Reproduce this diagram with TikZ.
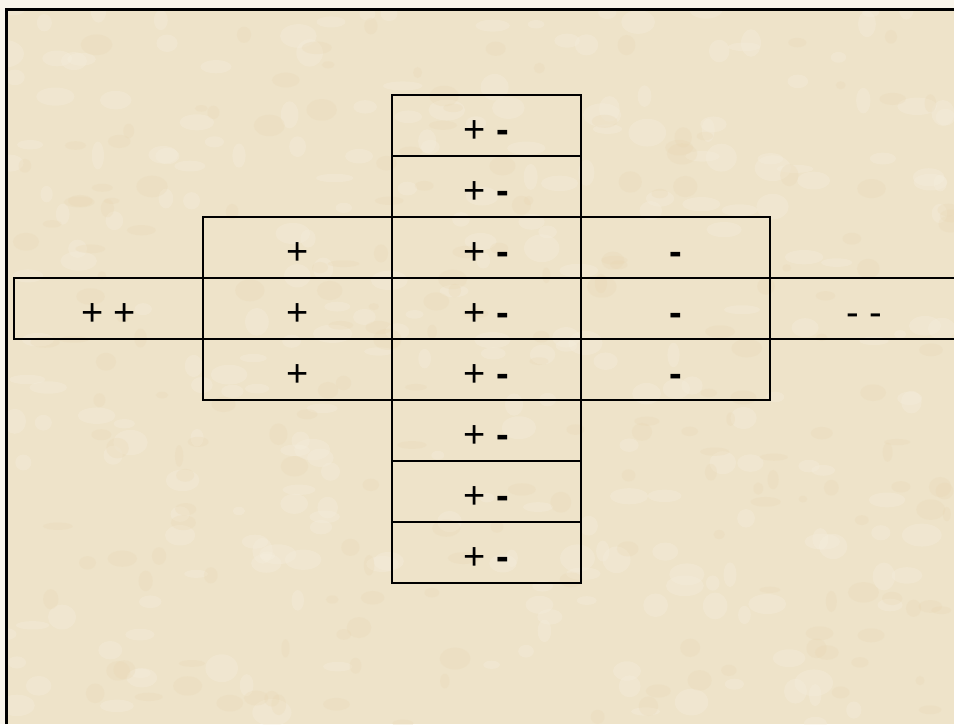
\documentclass[tikz,border=0pt]{standalone}
\usepackage{fontspec}
\setmainfont{Liberation Sans}
\usetikzlibrary{positioning}

\definecolor{parchment}{RGB}{238,227,201}
\definecolor{parchlight}{RGB}{245,238,222}
\definecolor{parchdark}{RGB}{233,215,178}

\tikzset{
  cell/.style={draw, line width=2pt, minimum width=189pt, minimum height=61pt,
    inner sep=0pt, outer sep=0pt, font=\fontsize{38}{40}\selectfont,
    text height=33pt, text depth=0pt}
}

\begin{document}
\begin{tikzpicture}[x=1pt,y=1pt]
	\useasboundingbox (0,0) rectangle (954,-724);
	
	%Background
	\fill[parchlight!60!white] (0,0) rectangle (954,-724);
	\fill[parchment] (5,-8) rectangle (954,-724);
	\begin{scope}
		\clip (5,-8) rectangle (954,-724);
		\pgfmathsetseed{11}
		\foreach \i in {1,...,260}{
			\pgfmathsetmacro{\px}{5+949*rnd}
			\pgfmathsetmacro{\py}{-8-716*rnd}
			\pgfmathsetmacro{\rx}{6+14*rnd}
			\pgfmathsetmacro{\ry}{4+10*rnd}
			\fill[parchlight, opacity=0.35] (\px,\py) ellipse ({\rx} and {\ry});
		}
		\foreach \i in {1,...,200}{
			\pgfmathsetmacro{\px}{5+949*rnd}
			\pgfmathsetmacro{\py}{-8-716*rnd}
			\pgfmathsetmacro{\rx}{4+12*rnd}
			\pgfmathsetmacro{\ry}{3+8*rnd}
			\fill[parchdark, opacity=0.25] (\px,\py) ellipse ({\rx} and {\ry});
		}
	\end{scope}
	
	%Frame
	\draw[line width=3pt] (6.5,-724) |- (954,-9.5);
	
	%Centre cell
	\node[cell] (centre) at (486.5,-308.5){+ \textbf{-}};
	
	%Column above
	\node[cell, above=0pt of centre] (up3){+ \textbf{-}};
	\node[cell, above=0pt of up3] (up2){+ \textbf{-}};
	\node[cell, above=0pt of up2] (up1){+ \textbf{-}};
	
	%Column below
	\node[cell, below=0pt of centre] (down1){+ \textbf{-}};
	\node[cell, below=0pt of down1] (down2){+ \textbf{-}};
	\node[cell, below=0pt of down2] (down3){+ \textbf{-}};
	\node[cell, below=0pt of down3] (down4){+ \textbf{-}};
	
	%Middle row
	\node[cell, left=0pt of centre] (left){+};
	\node[cell, left=0pt of left] (farleft){+ +};
	\node[cell, right=0pt of centre] (right){\textbf{-}};
	\node[cell, right=0pt of right] (farright){- -};
	
	%Band above and below
	\node[cell, above=0pt of left] (upleft){+};
	\node[cell, below=0pt of left] (downleft){+};
	\node[cell, above=0pt of right] (upright){\textbf{-}};
	\node[cell, below=0pt of right] (downright){\textbf{-}};
\end{tikzpicture}
\end{document}
